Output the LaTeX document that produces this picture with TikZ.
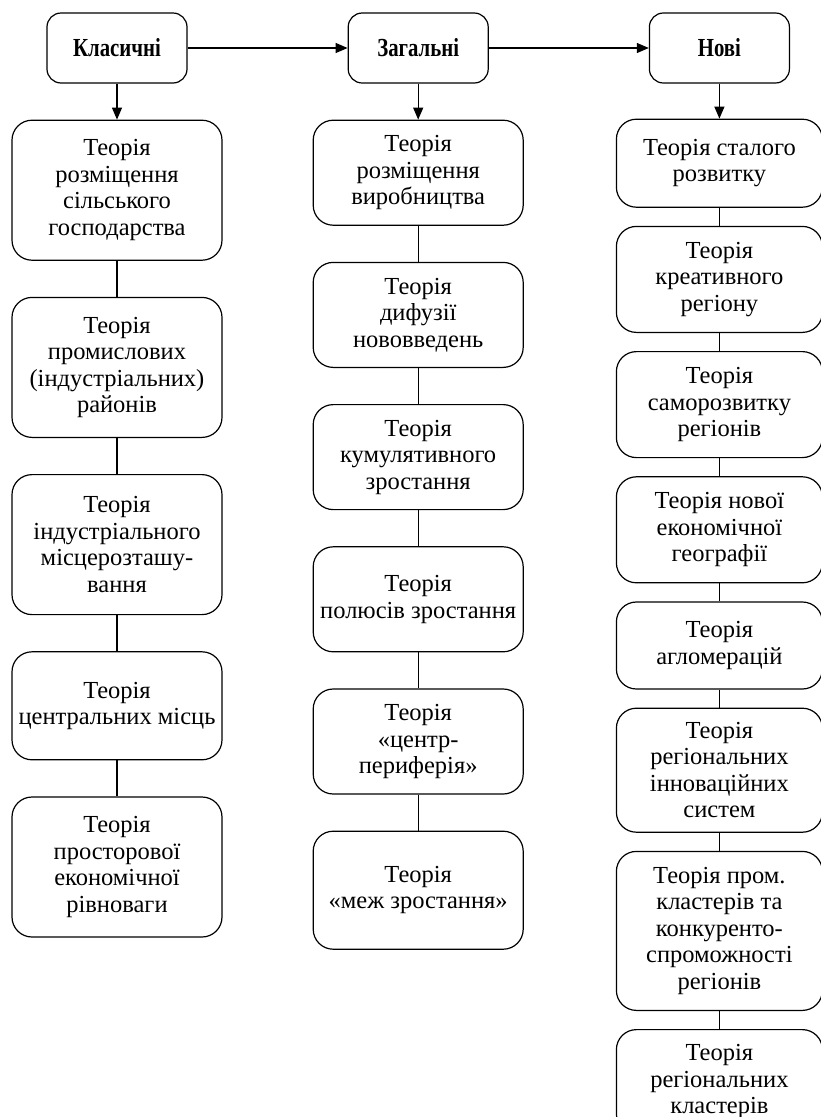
\documentclass[tikz,border=0pt]{standalone}
\usepackage{fontspec}
\setmainfont{Liberation Serif}
\newfontfamily\headfont{Liberation Serif}[FakeStretch=0.8]
\usetikzlibrary{positioning, arrows.meta}
\tikzset{head node/.style={rectangle, draw, rounded corners=14pt, minimum width=140pt, minimum height=70pt, inner sep=3pt, font=\headfont\bfseries\fontsize{26}{28}\selectfont},
theory node/.style={rectangle, draw, rounded corners=20pt, minimum width=210pt, inner sep=3pt, align=center, font=\fontsize{24.5}{26.5}\selectfont},}

\begin{document}
\begin{tikzpicture}[x=1pt, y=1pt, line width=1.2pt, node distance=36pt]
        \useasboundingbox (0,0) rectangle (821,-1117);
        % Headers
        \node[head node] (K) at (117,-48) {Класичні};
        \node[head node] [right = 160pt of K] (Z) {Загальні};
        \node[head node] [right = 160pt of Z] (N) {Нові};
        % Classic theories
        \node[theory node, minimum height=140pt] [below = of K] (K1) {Теорія\\розміщення\\сільського\\господарства};
        \node[theory node, minimum height=140pt] [below = of K1] (K2) {Теорія\\промислових\\(індустріальних)\\районів};
        \node[theory node, minimum height=140pt] [below = of K2] (K3) {Теорія\\індустріального\\місцерозташу-\\вання};
        \node[theory node, minimum height=108pt] [below = of K3] (K4) {Теорія\\центральних місць};
        \node[theory node, minimum height=140pt] [below = of K4] (K5) {Теорія\\просторової\\економічної\\рівноваги};
        % General theories
        \node[theory node, minimum height=105pt] [below = of Z] (Z1) {Теорія\\розміщення\\виробництва};
        \node[theory node, minimum height=105pt] [below = of Z1] (Z2) {Теорія\\дифузії\\нововведень};
        \node[theory node, minimum height=105pt] [below = of Z2] (Z3) {Теорія\\кумулятивного\\зростання};
        \node[theory node, minimum height=105pt] [below = of Z3] (Z4) {Теорія\\полюсів зростання};
        \node[theory node, minimum height=105pt] [below = of Z4] (Z5) {Теорія\\«центр-\\периферія»};
        \node[theory node, minimum height=118pt] [below = of Z5] (Z6) {Теорія\\«меж зростання»};
        % New theories
        \node[theory node, minimum width=206pt, minimum height=88pt] [below = 35pt of N] (N1) {Теорія сталого\\розвитку};
        \node[theory node, minimum width=206pt, minimum height=106pt] [below = 18pt of N1] (N2) {Теорія\\креативного\\регіону};
        \node[theory node, minimum width=206pt, minimum height=106pt] [below = 18pt of N2] (N3) {Теорія\\саморозвитку\\регіонів};
        \node[theory node, minimum width=206pt, minimum height=106pt] [below = 18pt of N3] (N4) {Теорія нової\\економічної\\географії};
        \node[theory node, minimum width=206pt, minimum height=87pt] [below = 18pt of N4] (N5) {Теорія\\агломерацій};
        \node[theory node, minimum width=206pt, minimum height=124pt] [below = 18pt of N5] (N6) {Теорія\\регіональних\\інноваційних\\систем};
        \node[theory node, minimum width=206pt, minimum height=159pt] [below = 18pt of N6] (N7) {Теорія пром.\\кластерів та\\конкуренто-\\спроможності\\регіонів};
        \node[theory node, minimum width=206pt, minimum height=104pt] [below = 18pt of N7] (N8) {Теорія\\регіональних\\кластерів};
        % Arrows
        \path[draw, -{Triangle[length=12pt, width=10pt]}]
        (K) edge (Z)
        (Z) edge (N)
        (K) edge (K1)
        (Z) edge (Z1)
        (N) edge (N1);
        % Links
        \path[draw, -]
        (K1) edge (K2) (K2) edge (K3) (K3) edge (K4) (K4) edge (K5)
        (Z1) edge (Z2) (Z2) edge (Z3) (Z3) edge (Z4) (Z4) edge (Z5) (Z5) edge (Z6)
        (N1) edge (N2) (N2) edge (N3) (N3) edge (N4) (N4) edge (N5) (N5) edge (N6) (N6) edge (N7) (N7) edge (N8);
    \end{tikzpicture}
\end{document}
